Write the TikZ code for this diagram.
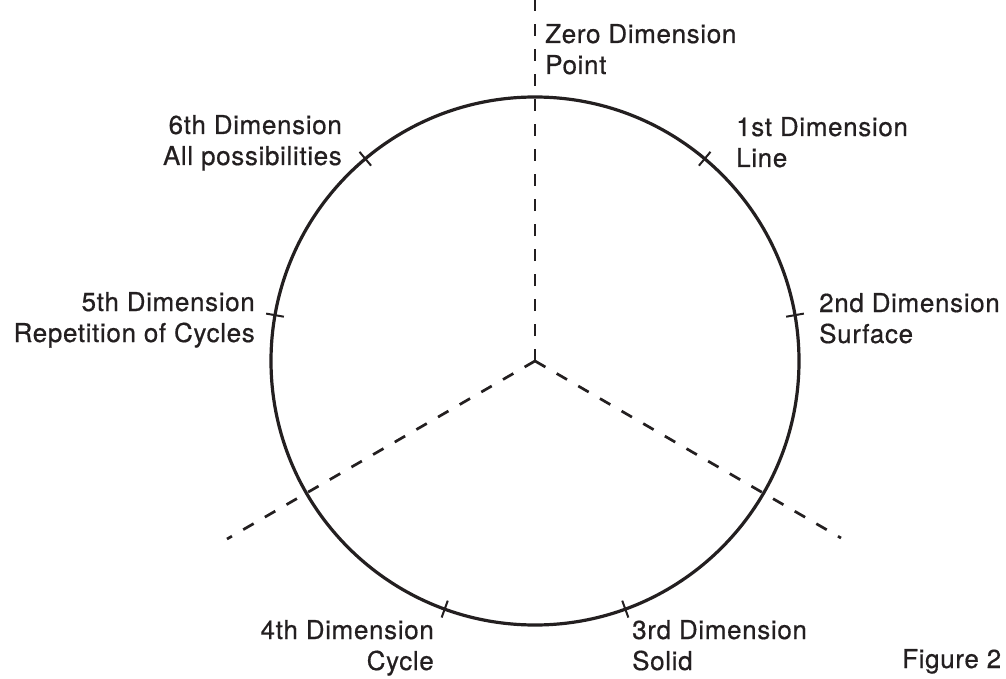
\documentclass[tikz,border=0pt]{standalone}
\usepackage{fontspec}
\usetikzlibrary{calc}
\setmainfont{TeX Gyre Heros}[LetterSpace=2.5,FakeBold=0.6]
\definecolor{ink}{HTML}{231F20}
\begin{document}
\begin{tikzpicture}[x=1pt,y=-1pt,
  circ/.style={draw=ink,line width=3.2pt},
  axis/.style={draw=ink,line width=2.7pt,dash pattern=on 12pt off 13pt},
  tick/.style={draw=ink,line width=2pt},
  lbl/.style={inner sep=0pt,text=ink,font=\fontsize{26}{31}\selectfont},
  lblL/.style={lbl,anchor=base west,align=left},
  lblR/.style={lbl,anchor=base east,align=right}]
\useasboundingbox (0,0) rectangle (1006,679);
\coordinate (c) at (535,361);
\draw[circ] (c) circle (264);
% dashed axes
\coordinate (top) at (535,0);
\coordinate (ll) at ($(c)+(-308,178)$);
\coordinate (lr) at ($(c)+(306,177)$);
\draw[axis] (c) -- (top);
\draw[axis] (c) -- (ll);
\draw[axis] (c) -- (lr);
% ticks
\foreach \a in {40,80,160,200,280,320}{
  \draw[tick] ($(c)+({255*sin(\a)},{-255*cos(\a)})$) -- ($(c)+({273*sin(\a)},{-273*cos(\a)})$);
}
% labels (base anchor = baseline of last line)
\node[lblL] (zero) at (545,74) {Zero Dimension\\Point};
\node[lblL] (first) at (736,167) {1st Dimension\\Line};
\node[lblL] (second) at (819,343) {2nd Dimension\\Surface};
\node[lblL] (third) at (632,670) {3rd Dimension\\Solid};
\node[lblR] (fourth) at (434,670) {4th Dimension\\Cycle};
\node[lblR] (fifth) at (255,342) {5th Dimension\\Repetition of Cycles};
\node[lblR] (sixth) at (342,165) {6th Dimension\\All possibilities};
\node[lblL] (fig) at (902,668) {Figure 2};
\end{tikzpicture}
\end{document}
